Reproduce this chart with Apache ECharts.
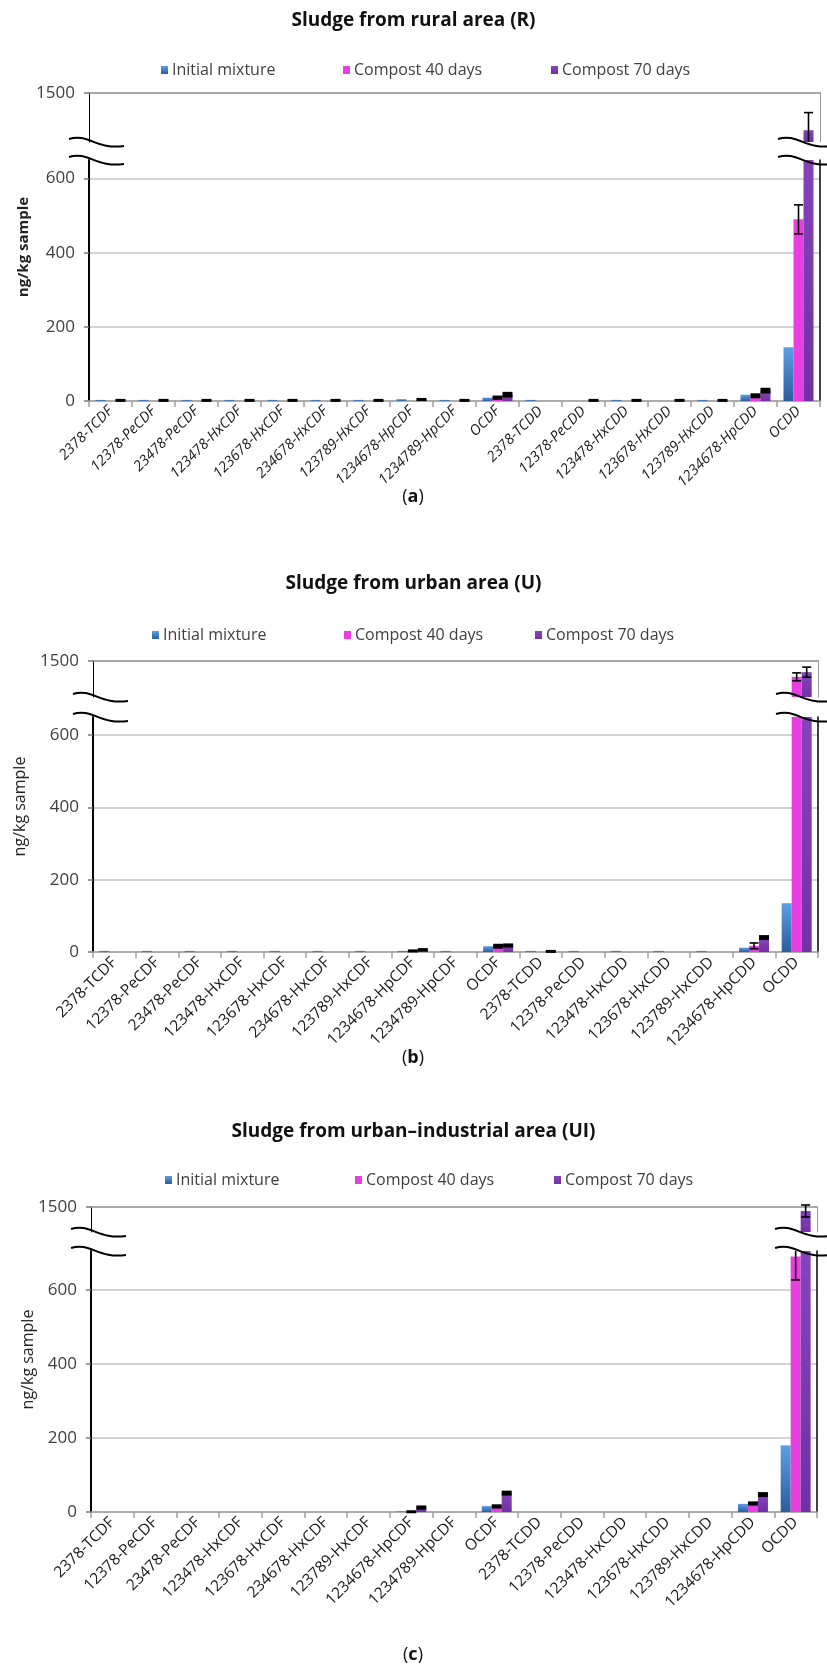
<!DOCTYPE html>
<html>
<head>
<meta charset="utf-8">
<script src="https://cdn.jsdelivr.net/npm/echarts@6.0.0/dist/echarts.min.js"></script>
<style>
  html, body { margin: 0; padding: 0; background: #fff; }
  #chart { width: 827px; height: 1670px; }
</style>
</head>
<body>
<div id="chart"></div>
<script>
var categories = ['2378-TCDF', '12378-PeCDF', '23478-PeCDF', '123478-HxCDF', '123678-HxCDF', '234678-HxCDF',
  '123789-HxCDF', '1234678-HpCDF', '1234789-HpCDF', 'OCDF', '2378-TCDD', '12378-PeCDD', '123478-HxCDD',
  '123678-HxCDD', '123789-HxCDD', '1234678-HpCDD', 'OCDD'];
var seriesNames = ['Initial mixture', 'Compost 40 days', 'Compost 70 days'];

// sludge from rural area (R)
var ruralInitial = [3, 3, 3, 3, 3, 3, 3, 5, 3, 9, 3, 0, 3, 0, 3, 17, 145];
var rural40 = [0, 0, 0, 0, 0, 0, 0, 0, 0, 9, 0, 0, 0, 0, 0, 14, 490];
var rural70 = [2, 2, 2, 2, 2, 2, 2, 4, 2, 17, 0, 2, 2, 2, 2, 28, 1120];
var rural40Err = [0, 0, 0, 0, 0, 0, 0, 0, 0, 3, 0, 0, 0, 0, 0, 4, 39];
var rural70Err = [1, 1, 1, 1, 1, 1, 1, 1.5, 1, 5, 0, 1, 1, 1, 1, 5, 180];

// sludge from urban area (U)
var urbanInitial = [3, 3, 3, 3, 3, 3, 3, 3, 3, 16, 3, 3, 3, 3, 3, 12, 135];
var urban40 = [0, 0, 0, 0, 0, 0, 0, 3, 0, 16, 0, 0, 0, 0, 0, 17, 1280];
var urban70 = [0, 0, 0, 0, 0, 0, 0, 6, 0, 18, 2, 0, 0, 0, 0, 40, 1345];
var urban40Err = [0, 0, 0, 0, 0, 0, 0, 1.5, 0, 4, 0, 0, 0, 0, 0, 8, 55];
var urban70Err = [0, 0, 0, 0, 0, 0, 0, 2, 0, 3, 1, 0, 0, 0, 0, 4, 70];

// sludge from urban-industrial area (UI)
var industrialInitial = [0, 0, 0, 0, 0, 0, 0, 2, 0, 16, 0, 0, 0, 0, 0, 22, 180];
var industrial40 = [0, 0, 0, 0, 0, 0, 0, 1, 0, 15, 0, 0, 0, 0, 0, 23, 690];
var industrial70 = [0, 0, 0, 0, 0, 0, 0, 12, 0, 51, 0, 0, 0, 0, 0, 47, 1420];
var industrial40Err = [0, 0, 0, 0, 0, 0, 0, 1, 0, 3, 0, 0, 0, 0, 0, 3, 63];
var industrial70Err = [0, 0, 0, 0, 0, 0, 0, 3, 0, 4, 0, 0, 0, 0, 0, 4, 120];

var lowerTicks = [0, 200, 400, 600];
var upperTicks = [1500];
var upperMin = 1000;
var upperMax = 1500;

var FONT = 'Open Sans';
var BAR_W = 10;

var panels = [
  { title: 'Sludge from rural area (R)', tag: 'a',
    values: [ruralInitial, rural40, rural70], errs: [null, rural40Err, rural70Err],
    left: 89, right: 820, upTop: 93, upBottom: 142, lowTop: 160, lowBottom: 401, lowMax: 650,
    titleY: 24, legendY: 68, legendX: [156, 338, 546], tagY: 497, nameX: 24, nameBold: true, italic: true, labelSize: 14.5 },
  { title: 'Sludge from urban area (U)', tag: 'b',
    values: [urbanInitial, urban40, urban70], errs: [null, urban40Err, urban70Err],
    left: 93, right: 818, upTop: 661, upBottom: 697, lowTop: 717, lowBottom: 952, lowMax: 650,
    titleY: 587, legendY: 633, legendX: [147, 339, 530], tagY: 1058, nameX: 20, nameBold: false, italic: false, labelSize: 15.5 },
  { title: 'Sludge from urban\u2013industrial area (UI)', tag: 'c',
    values: [industrialInitial, industrial40, industrial70], errs: [null, industrial40Err, industrial70Err],
    left: 91, right: 817, upTop: 1207, upBottom: 1232, lowTop: 1251, lowBottom: 1512, lowMax: 705,
    titleY: 1135, legendY: 1178, legendX: [160, 350, 549], tagY: 1655, nameX: 28, nameBold: false, italic: false, labelSize: 15.5 }
];

var colors = [
  new echarts.graphic.LinearGradient(0, 0, 0, 1, [{ offset: 0, color: '#5d9fe4' }, { offset: 1, color: '#2c5c9c' }]),
  '#e840e0',
  new echarts.graphic.LinearGradient(0, 0, 0, 1, [{ offset: 0, color: '#8644ba' }, { offset: 1, color: '#7230a4' }])
];

// error bars, drawn through the axis scales, clamped to the visible part of each axis
function errorBars(slot, lo, hi) {
  return function (params, api) {
    var c = api.value(0), v = api.value(1), e = api.value(2);
    var top = Math.min(v + e, hi), bot = Math.max(v - e, lo);
    if (top <= lo || bot >= hi) return;
    var pTop = api.coord([c, top]);
    var pBot = api.coord([c, bot]);
    var x = pTop[0] + (slot - 1) * BAR_W;
    var style = { stroke: '#000', lineWidth: 1.6, fill: null };
    if (pBot[1] - pTop[1] < 5) {
      return { type: 'rect', shape: { x: x - 5, y: pTop[1] - 1, width: 10, height: Math.max(pBot[1] - pTop[1] + 2, 3) },
        style: { fill: '#000' } };
    }
    var children = [{ type: 'line', shape: { x1: x, y1: pTop[1], x2: x, y2: pBot[1] }, style: style }];
    if (v + e <= hi) children.push({ type: 'line', shape: { x1: x - 4.5, y1: pTop[1], x2: x + 4.5, y2: pTop[1] }, style: style });
    if (v - e >= lo) children.push({ type: 'line', shape: { x1: x - 4.5, y1: pBot[1], x2: x + 4.5, y2: pBot[1] }, style: style });
    return { type: 'group', children: children };
  };
}

function plainNumber(v) { return String(v); }

var grid = [], xAxis = [], yAxis = [], series = [], legend = [], graphic = [];

function wave(x0, y) {
  var w = 55;
  return { type: 'bezierCurve', z: 100,
    shape: { x1: x0, y1: y - 3, cpx1: x0 + w * 0.35, cpy1: y - 9, cpx2: x0 + w * 0.5, cpy2: y + 8, x2: x0 + w, y2: y + 4 },
    style: { stroke: '#000', lineWidth: 2, fill: null } };
}

panels.forEach(function (p, i) {
  var gLow = 2 * i, gUp = 2 * i + 1;
  grid.push({ left: p.left, right: 827 - p.right, top: p.lowTop, height: p.lowBottom - p.lowTop });
  grid.push({ left: p.left, right: 827 - p.right, top: p.upTop, height: p.upBottom - p.upTop });

  xAxis.push({
    type: 'category', gridIndex: gLow, data: categories, position: 'bottom',
    axisLine: { onZero: false, lineStyle: { color: '#a0a0a0', width: 1.5 } },
    axisTick: { show: true, interval: 0, length: 6, lineStyle: { color: '#a0a0a0', width: 1.5 } },
    axisLabel: { interval: 0, rotate: 45, margin: 8, fontFamily: FONT, fontSize: p.labelSize, color: '#1a1a1a',
      fontStyle: p.italic ? 'italic' : 'normal' },
    splitLine: { show: false }
  });
  xAxis.push({
    type: 'category', gridIndex: gUp, data: categories, position: 'top',
    axisLine: { onZero: false, lineStyle: { color: '#8c8c8c', width: 1.5 } },
    axisTick: { show: false }, axisLabel: { show: false }, splitLine: { show: false }
  });

  var yLowL = 4 * i, yUpL = 4 * i + 2;
  yAxis.push({
    type: 'value', gridIndex: gLow, min: 0, max: p.lowMax, interval: 200, position: 'left',
    axisLine: { show: true, onZero: false, lineStyle: { color: '#000', width: 2 } },
    axisTick: { show: true, length: 5, customValues: lowerTicks, lineStyle: { color: '#7a7a7a', width: 1.5 } },
    axisLabel: { customValues: lowerTicks, margin: 14, fontFamily: FONT, fontSize: 17, color: '#404040',
      formatter: plainNumber },
    splitLine: { show: true, lineStyle: { color: '#c4c4c4', width: 1.5 } }
  });
  yAxis.push({
    type: 'value', gridIndex: gLow, min: 0, max: 1, position: 'right',
    axisLine: { show: true, onZero: false, lineStyle: { color: '#000', width: 1.5 } },
    axisTick: { show: false }, axisLabel: { show: false }, splitLine: { show: false }
  });
  yAxis.push({
    type: 'value', gridIndex: gUp, min: upperMin, max: upperMax, interval: 500, position: 'left',
    axisLine: { show: true, onZero: false, lineStyle: { color: '#000', width: 1 } },
    axisTick: { show: true, length: 5, customValues: upperTicks, lineStyle: { color: '#7a7a7a', width: 1.5 } },
    axisLabel: { customValues: upperTicks, margin: 14, fontFamily: FONT, fontSize: 17, color: '#404040',
      formatter: plainNumber },
    splitLine: { show: false }
  });
  yAxis.push({
    type: 'value', gridIndex: gUp, min: 0, max: 1, position: 'right',
    axisLine: { show: true, onZero: false, lineStyle: { color: '#9a9a9a', width: 1 } },
    axisTick: { show: false }, axisLabel: { show: false }, splitLine: { show: false }
  });

  seriesNames.forEach(function (name, s) {
    var vals = p.values[s];
    series.push({
      name: name, type: 'bar', xAxisIndex: gLow, yAxisIndex: yLowL, data: vals,
      barWidth: BAR_W, barGap: '0%', clip: true, z: 2,
      itemStyle: { color: colors[s] }
    });
    series.push({
      name: name, type: 'bar', xAxisIndex: gUp, yAxisIndex: yUpL,
      data: vals.map(function (v) { return v > upperMin ? v : '-'; }),
      barWidth: BAR_W, barGap: '0%', clip: true, z: 2,
      itemStyle: { color: colors[s] }
    });
    var errs = p.errs[s];
    if (errs) {
      var errData = [];
      vals.forEach(function (v, k) { if (errs[k] > 0) errData.push([k, v, errs[k]]); });
      series.push({
        type: 'custom', xAxisIndex: gLow, yAxisIndex: yLowL, data: errData, z: 5, silent: true,
        renderItem: errorBars(s, 0, p.lowMax)
      });
      series.push({
        type: 'custom', xAxisIndex: gUp, yAxisIndex: yUpL, data: errData, z: 5, silent: true,
        renderItem: errorBars(s, upperMin, upperMax + 60)
      });
    }
    legend.push({
      data: [{ name: name, icon: 'rect' }], left: p.legendX[s], top: p.legendY - 11,
      itemWidth: 7, itemHeight: 8, itemGap: 0, selectedMode: false,
      textStyle: { fontFamily: FONT, fontSize: 16, color: '#404040', padding: [0, 0, 0, -1] }
    });
  });

  graphic.push({
    type: 'text', left: 'center', top: p.titleY - 13,
    style: { text: p.title, fontFamily: FONT, fontSize: 19, fontWeight: 'bold', fill: '#111' }
  });
  graphic.push({
    type: 'text', x: 413, y: p.tagY, style: {
      text: '({b|' + p.tag + '})', textAlign: 'center', textVerticalAlign: 'middle',
      fontFamily: FONT, fontSize: 18, fill: '#111',
      rich: { b: { fontFamily: FONT, fontSize: 18, fontWeight: 'bold', fill: '#111' } }
    }
  });
  graphic.push({
    type: 'text', x: p.nameX, y: (p.upTop + p.lowBottom) / 2, rotation: Math.PI / 2,
    style: { text: 'ng/kg sample', textAlign: 'center', textVerticalAlign: 'middle', fontFamily: FONT,
      fontSize: p.nameBold ? 15 : 16, fontWeight: p.nameBold ? 'bold' : 'normal', fill: '#222' }
  });
  // axis break marks
  graphic.push(wave(p.left - 20, p.upBottom));
  graphic.push(wave(p.left - 20, p.lowTop));
  graphic.push(wave(p.right - 42, p.upBottom));
  graphic.push(wave(p.right - 42, p.lowTop));
});

var chart = echarts.init(document.getElementById('chart'), null, { renderer: 'canvas' });
chart.setOption({
  animation: false,
  backgroundColor: '#fff',
  grid: grid, xAxis: xAxis, yAxis: yAxis, series: series, legend: legend, graphic: graphic
});
</script>
</body>
</html>
